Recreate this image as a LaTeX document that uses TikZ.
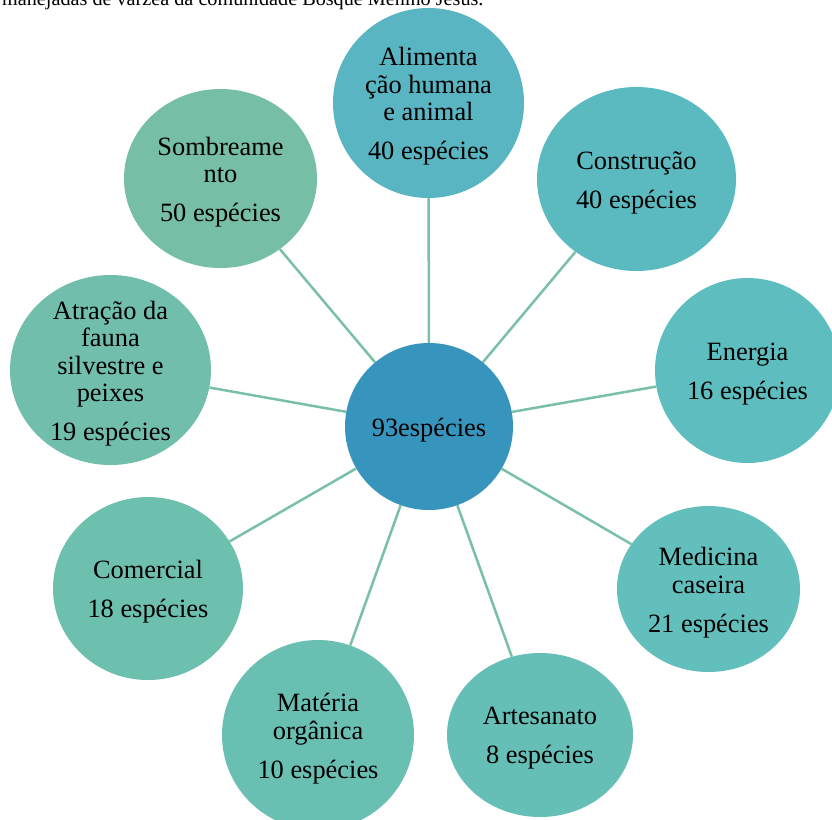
\documentclass[tikz,border=0pt]{standalone}
\usepackage{fontspec}
\setmainfont{Liberation Serif}
\usetikzlibrary{shapes.geometric}
\definecolor{cmid}{RGB}{55,149,189}
\definecolor{cali}{RGB}{89,181,193}
\definecolor{ccon}{RGB}{91,186,192}
\definecolor{cene}{RGB}{94,190,191}
\definecolor{cmed}{RGB}{98,191,187}
\definecolor{cart}{RGB}{102,191,182}
\definecolor{cmat}{RGB}{105,191,178}
\definecolor{ccom}{RGB}{109,191,174}
\definecolor{catr}{RGB}{112,190,171}
\definecolor{csom}{RGB}{118,190,166}
\definecolor{cline}{RGB}{122,192,166}
\tikzset{
  disc/.style={ellipse, inner sep=0pt, draw=none},
  lbl/.style={align=center, inner sep=0pt, text=black, yshift=-3.5pt, font=\fontsize{26.4}{27.5}\selectfont},
  conn/.style={draw=cline, line width=2.5pt},
}
\begin{document}
\begin{tikzpicture}[x=1pt,y=-1pt]
\useasboundingbox (0,0) rectangle (832,819);
\clip (0,0) rectangle (832,819);
\fill[white] (0,0) rectangle (832,819);
\node[anchor=base west, inner sep=0pt, font=\fontsize{20.2}{24}\selectfont] (cap) at (2,5.5) {manejadas de várzea da comunidade Bosque Menino Jesus.};
% shapes (coordinates only for connectors)
\node[disc, minimum width=168pt, minimum height=167pt] (mid) at (429,426.5) {};
\node[disc, minimum width=191pt, minimum height=190pt] (ali) at (428.5,103) {};
\node[disc, minimum width=199pt, minimum height=184pt] (con) at (636.5,179) {};
\node[disc, minimum width=185pt, minimum height=185pt] (ene) at (747.5,370.5) {};
\node[disc, minimum width=183pt, minimum height=166pt] (med) at (708.5,589) {};
\node[disc, minimum width=186pt, minimum height=164pt] (art) at (540,735) {};
\node[disc, minimum width=192pt, minimum height=190pt] (mat) at (318,735) {};
\node[disc, minimum width=190pt, minimum height=183pt] (com) at (148,588.5) {};
\node[disc, minimum width=201pt, minimum height=190pt] (atr) at (110.5,370) {};
\node[disc, minimum width=193pt, minimum height=179pt] (som) at (220.5,178.5) {};
% connectors
\foreach \n in {ali,con,ene,med,art,mat,com,atr,som}
  \draw[conn] (mid) -- (\n);
% fills
\fill[cmid] (mid.center) ellipse [x radius=84pt, y radius=83.5pt];
\fill[cali] (ali.center) ellipse [x radius=95.5pt, y radius=95pt];
\fill[ccon] (con.center) ellipse [x radius=99.5pt, y radius=92pt];
\fill[cene] (ene.center) ellipse [x radius=92.5pt, y radius=92.5pt];
\fill[cmed] (med.center) ellipse [x radius=91.5pt, y radius=83pt];
\fill[cart] (art.center) ellipse [x radius=93pt, y radius=82pt];
\fill[cmat] (mat.center) ellipse [x radius=96pt, y radius=95pt];
\fill[ccom] (com.center) ellipse [x radius=95pt, y radius=91.5pt];
\fill[catr] (atr.center) ellipse [x radius=100.5pt, y radius=95pt];
\fill[csom] (som.center) ellipse [x radius=96.5pt, y radius=89.5pt];
% labels
\node[lbl] (tmid) at (mid.center) {93espécies};
\node[lbl] (tali) at (ali.center) {Alimenta\\ção humana\\e animal\\[11.5pt]40 espécies};
\node[lbl] (tcon) at (con.center) {Construção\\[11.5pt]40 espécies};
\node[lbl] (tene) at (ene.center) {Energia\\[11.5pt]16 espécies};
\node[lbl] (tmed) at (med.center) {Medicina\\caseira\\[11.5pt]21 espécies};
\node[lbl] (tart) at (art.center) {Artesanato\\[11.5pt]8 espécies};
\node[lbl] (tmat) at (mat.center) {Matéria\\orgânica\\[11.5pt]10 espécies};
\node[lbl] (tcom) at (com.center) {Comercial\\[11.5pt]18 espécies};
\node[lbl] (tatr) at (atr.center) {Atração da\\fauna\\silvestre e\\peixes\\[11.5pt]19 espécies};
\node[lbl] (tsom) at (som.center) {Sombreame\\nto\\[11.5pt]50 espécies};
\end{tikzpicture}
\end{document}
